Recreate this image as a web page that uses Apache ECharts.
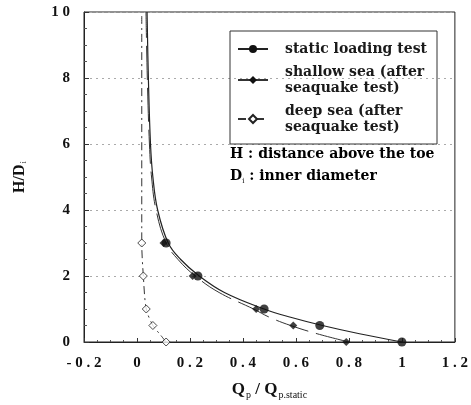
<!DOCTYPE html>
<html>
<head>
<meta charset="utf-8">
<script src="https://cdn.jsdelivr.net/npm/echarts@6/dist/echarts.min.js"></script>
<style>
  html, body { margin: 0; padding: 0; background: #fff; }
  #chart { width: 471px; height: 405px; }
</style>
</head>
<body>
<div id="chart"></div>
<script>
// tick labels (typewriter spacing as in the figure)
const xTickValues = [-0.2, 0, 0.2, 0.4, 0.6, 0.8, 1, 1.2];
const xTickLabels = ['- 0 . 2', '0', '0 . 2', '0 . 4', '0 . 6', '0 . 8', '1', '1 . 2'];
const yTickValues = [0, 2, 4, 6, 8, 10];
const yTickLabels = ['0', '2', '4', '6', '8', '1 0'];

// measured points: [Q/Qstatic, H/Di]
const staticPts = [[1.0, 0], [0.69, 0.5], [0.48, 1], [0.23, 2], [0.11, 3]];
const shallowPts = [[0.79, 0], [0.59, 0.5], [0.45, 1], [0.21, 2], [0.10, 3]];
const deepPts = [[0.11, 0], [0.06, 0.5], [0.035, 1], [0.024, 2], [0.018, 3]];

// fitted curves
const staticCurve = [[1.0, 0], [0.84, 0.25], [0.70, 0.5], [0.58, 0.75], [0.48, 1], [0.33, 1.5],
  [0.235, 2], [0.165, 2.5], [0.118, 3], [0.078, 4], [0.06, 5], [0.051, 6], [0.043, 8], [0.038, 10]];
const shallowCurve = [[0.80, 0], [0.68, 0.25], [0.58, 0.5], [0.50, 0.75], [0.44, 1], [0.31, 1.5],
  [0.22, 2], [0.155, 2.5], [0.11, 3], [0.072, 4], [0.055, 5], [0.047, 6], [0.039, 8], [0.034, 10]];
const deepCurve = [[0.11, 0], [0.085, 0.25], [0.06, 0.5], [0.035, 1], [0.024, 2], [0.018, 3],
  [0.018, 10]];

const names = ['static loading test', 'shallow sea (after\nseaquake test)', 'deep sea (after\nseaquake test)'];

const FONT = 'Liberation Serif';
const TEXT_FONT = 'DejaVu Serif';

function lookup(vals, labels, v) {
  const i = vals.findIndex(t => Math.abs(t - v) < 1e-6);
  return i < 0 ? '' : labels[i];
}

const noteRich = {
  b: { fontFamily: TEXT_FONT, fontWeight: 'bold', fontSize: 14, color: '#1a1a1a' },
  s: { fontFamily: TEXT_FONT, fontSize: 7, color: '#111', verticalAlign: 'bottom', padding: [10, 0, 0, 0] }
};

const chart = echarts.init(document.getElementById('chart'));

chart.setOption({
  backgroundColor: '#fff',
  animation: false,
  grid: { left: 84, right: 14, top: 12, bottom: 63, show: true, borderColor: '#222', borderWidth: 1 },
  legend: {
    data: names,
    orient: 'vertical',
    left: 230, top: 31,
    width: 217,
    padding: [10, 10, 9, 7],
    itemGap: 7,
    itemWidth: 30, itemHeight: 10,
    borderColor: '#333', borderWidth: 1,
    textStyle: { fontFamily: TEXT_FONT, fontWeight: 'bold', fontSize: 14, color: '#1a1a1a', lineHeight: 16, padding: [0, 0, 0, 12] },
    selectedMode: false
  },
  xAxis: {
    type: 'value', min: -0.2, max: 1.2, interval: 0.2,
    name: '{b|Q}{s|p}{b| / Q}{s|p.static}',
    nameLocation: 'middle', nameGap: 38,
    nameTextStyle: {
      rich: {
        b: { fontFamily: FONT, fontWeight: 'bold', fontSize: 17, color: '#111' },
        s: { fontFamily: FONT, fontSize: 10, color: '#111', verticalAlign: 'bottom', padding: [10, 0, 0, 1] }
      }
    },
    axisLine: { onZero: false, lineStyle: { color: '#222' } },
    axisTick: { inside: true, length: 4, lineStyle: { color: '#333' } },
    minorTick: { show: true, splitNumber: 4, length: 2, lineStyle: { color: '#555' } },
    axisLabel: {
      fontFamily: FONT, fontWeight: 'bold', fontSize: 15, color: '#111', margin: 14,
      formatter: v => lookup(xTickValues, xTickLabels, v)
    },
    splitLine: { show: false }
  },
  yAxis: {
    type: 'value', min: 0, max: 10, interval: 2,
    name: '{b|H/D}{s|i}',
    nameLocation: 'middle', nameGap: 56, nameRotate: 90,
    nameTextStyle: {
      rich: {
        b: { fontFamily: FONT, fontWeight: 'bold', fontSize: 16, color: '#111' },
        s: { fontFamily: FONT, fontSize: 9, color: '#111', verticalAlign: 'bottom', padding: [8, 0, 0, 1] }
      }
    },
    axisLine: { onZero: false, lineStyle: { color: '#222' } },
    axisTick: { inside: true, length: 5, lineStyle: { color: '#333' } },
    minorTick: { show: true, splitNumber: 4, length: 3, lineStyle: { color: '#555' } },
    axisLabel: {
      fontFamily: FONT, fontWeight: 'bold', fontSize: 15, color: '#111', margin: 14,
      formatter: v => lookup(yTickValues, yTickLabels, v)
    },
    splitLine: { show: true, lineStyle: { color: '#aaa', type: [2, 4], width: 1 } }
  },
  graphic: [
    {
      type: 'text', left: 230, top: 147,
      style: { text: '{b|H : distance above the toe}', rich: noteRich }
    },
    {
      type: 'text', left: 230, top: 169,
      style: { text: '{b|D}{s|i}{b| : inner diameter}', rich: noteRich }
    }
  ],
  series: [
    {
      name: names[0], type: 'line', data: staticCurve, smooth: 0.4,
      symbol: 'circle', symbolSize: 8, showSymbol: false,
      itemStyle: { color: '#111' },
      lineStyle: { color: '#222', width: 1.2 }, z: 3
    },
    {
      name: names[1], type: 'line', data: shallowCurve, smooth: 0.4,
      symbol: 'diamond', symbolSize: 8, showSymbol: false,
      itemStyle: { color: '#111' },
      lineStyle: { color: '#333', width: 1, type: [34, 8] }, z: 3
    },
    {
      name: names[2], type: 'line', data: deepCurve, smooth: 0.3,
      symbol: 'diamond', symbolSize: 8, showSymbol: false,
      itemStyle: { color: '#fff', borderColor: '#222', borderWidth: 1 },
      lineStyle: { color: '#333', width: 1, type: [8, 4, 2, 4] }, z: 3
    },
    {
      type: 'scatter', data: staticPts, symbol: 'circle', symbolSize: 9,
      itemStyle: { color: '#111' }, z: 5
    },
    {
      type: 'scatter', data: shallowPts, symbol: 'diamond', symbolSize: 8,
      itemStyle: { color: '#111' }, z: 5
    },
    {
      type: 'scatter', data: deepPts, symbol: 'diamond', symbolSize: 8,
      itemStyle: { color: '#fff', borderColor: '#222', borderWidth: 1 }, z: 5
    }
  ]
});
</script>
</body>
</html>
